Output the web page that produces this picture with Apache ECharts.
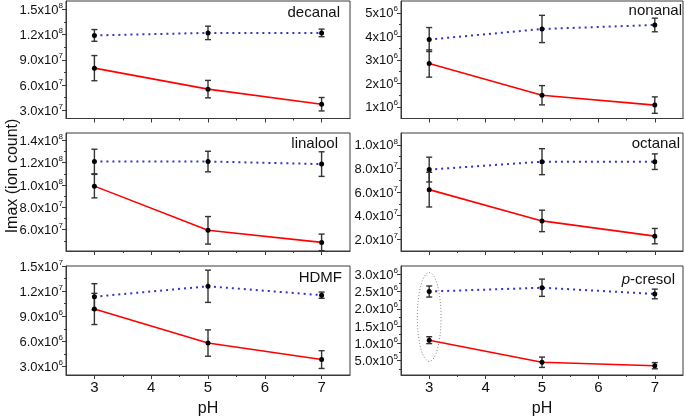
<!DOCTYPE html>
<html>
<head>
<meta charset="utf-8">
<script src="https://cdn.jsdelivr.net/npm/echarts@6/dist/echarts.min.js"></script>
<style>html,body{margin:0;padding:0;background:#fff;}#c{width:685px;height:418px;}</style>
</head>
<body>
<div id="c"></div>
<script>
// ---------------- data ----------------
const pH = [3, 5, 7];
const xTicks = [3, 4, 5, 6, 7];
const xMinorTicks = [3.5, 4.5, 5.5, 6.5];

const decanalDotted = [1.19e8, 1.22e8, 1.22e8];
const decanalDottedErr = [7e6, 8e6, 4.5e6];
const decanalSolid = [8.0e7, 5.5e7, 3.7e7];
const decanalSolidErr = [1.5e7, 1.04e7, 8e6];
const decanalTicks = [3e7, 6e7, 9e7, 1.2e8, 1.5e8];
const decanalTickLabels = ['3.0x10^7', '6.0x10^7', '9.0x10^7', '1.2x10^8', '1.5x10^8'];
const decanalMinor = [4.5e7, 7.5e7, 1.05e8, 1.35e8];

const nonanalDotted = [3.86e6, 4.31e6, 4.48e6];
const nonanalDottedErr = [0.51e6, 0.58e6, 0.29e6];
const nonanalSolid = [2.84e6, 1.49e6, 1.07e6];
const nonanalSolidErr = [0.58e6, 0.41e6, 0.35e6];
const nonanalTicks = [1e6, 2e6, 3e6, 4e6, 5e6];
const nonanalTickLabels = ['1x10^6', '2x10^6', '3x10^6', '4x10^6', '5x10^6'];
const nonanalMinor = [1.5e6, 2.5e6, 3.5e6, 4.5e6];

const linaloolDotted = [1.21e8, 1.21e8, 1.187e8];
const linaloolDottedErr = [1.1e7, 9.2e6, 1.1e7];
const linaloolSolid = [9.9e7, 5.95e7, 4.87e7];
const linaloolSolidErr = [1.05e7, 1.23e7, 7.4e6];
const linaloolTicks = [6e7, 8e7, 1e8, 1.2e8, 1.4e8];
const linaloolTickLabels = ['6.0x10^7', '8.0x10^7', '1.0x10^8', '1.2x10^8', '1.4x10^8'];
const linaloolMinor = [5e7, 7e7, 9e7, 1.1e8, 1.3e8];

const octanalDotted = [7.9e7, 8.57e7, 8.57e7];
const octanalDottedErr = [1.05e7, 1.1e7, 6.6e6];
const octanalSolid = [6.2e7, 3.55e7, 2.26e7];
const octanalSolidErr = [1.47e7, 9.1e6, 6.5e6];
const octanalTicks = [2e7, 4e7, 6e7, 8e7, 1e8];
const octanalTickLabels = ['2.0x10^7', '4.0x10^7', '6.0x10^7', '8.0x10^7', '1.0x10^8'];
const octanalMinor = [3e7, 5e7, 7e7, 9e7];

const hdmfDotted = [1.134e7, 1.258e7, 1.152e7];
const hdmfDottedErr = [1.55e6, 1.92e6, 0.37e6];
const hdmfSolid = [9.88e6, 5.81e6, 3.84e6];
const hdmfSolidErr = [1.86e6, 1.57e6, 1.06e6];
const hdmfTicks = [3e6, 6e6, 9e6, 1.2e7, 1.5e7];
const hdmfTickLabels = ['3.0x10^6', '6.0x10^6', '9.0x10^6', '1.2x10^7', '1.5x10^7'];
const hdmfMinor = [4.5e6, 7.5e6, 1.05e7, 1.35e7];

const pcresolDotted = [2.5e6, 2.61e6, 2.43e6];
const pcresolDottedErr = [0.16e6, 0.25e6, 0.14e6];
const pcresolSolid = [1.09e6, 4.5e5, 3.5e5];
const pcresolSolidErr = [1.0e5, 1.5e5, 0.9e5];
const pcresolTicks = [5e5, 1e6, 1.5e6, 2e6, 2.5e6, 3e6];
const pcresolTickLabels = ['5.0x10^5', '1.0x10^6', '1.5x10^6', '2.0x10^6', '2.5x10^6', '3.0x10^6'];
const pcresolMinor = [2.5e5, 7.5e5, 1.25e6, 1.75e6, 2.25e6, 2.75e6];

// highlight ellipse (data units of p-cresol panel)
const ellipseCenter = [3, 1.76e6];
const ellipseRadius = [0.21, 1.29e6];

// ---------------- layout ----------------
const FONT = 'Liberation Sans, Arial, Helvetica, sans-serif';
const panels = [
  {title: 'decanal', dot: decanalDotted, dotErr: decanalDottedErr, sol: decanalSolid, solErr: decanalSolidErr, ticks: decanalTicks, labels: decanalTickLabels, minor: decanalMinor, min: 2e7, max: 1.6e8, tRight: 345, tTop: 5},
  {title: 'nonanal', dot: nonanalDotted, dotErr: nonanalDottedErr, sol: nonanalSolid, solErr: nonanalSolidErr, ticks: nonanalTicks, labels: nonanalTickLabels, minor: nonanalMinor, min: 0.5e6, max: 5.5e6, tRight: 3, tTop: 3},
  {title: 'linalool', dot: linaloolDotted, dotErr: linaloolDottedErr, sol: linaloolSolid, solErr: linaloolSolidErr, ticks: linaloolTicks, labels: linaloolTickLabels, minor: linaloolMinor, min: 4.1e7, max: 1.465e8, tRight: 347, tTop: 136},
  {title: 'octanal', dot: octanalDotted, dotErr: octanalDottedErr, sol: octanalSolid, solErr: octanalSolidErr, ticks: octanalTicks, labels: octanalTickLabels, minor: octanalMinor, min: 1e7, max: 1.1e8, tRight: 5, tTop: 136},
  {title: 'HDMF', dot: hdmfDotted, dotErr: hdmfDottedErr, sol: hdmfSolid, solErr: hdmfSolidErr, ticks: hdmfTicks, labels: hdmfTickLabels, minor: hdmfMinor, min: 2e6, max: 1.5e7, tRight: 343, tTop: 270},
  {title: '{i|p}-cresol', dot: pcresolDotted, dotErr: pcresolDottedErr, sol: pcresolSolid, solErr: pcresolSolidErr, ticks: pcresolTicks, labels: pcresolTickLabels, minor: pcresolMinor, min: 0.08e6, max: 3.24e6, tRight: 10, tTop: 272}
];
const colLeft = [66, 401], colWidth = [284, 282];
const rowTop = [1, 133, 266], rowHeight = [117.5, 118, 119.5];

const AXIS_COLOR = '#3a3a3a';
const grids = [], xAxes = [], yAxes = [], series = [], titles = [];

function errRender(params, api) {
  const x = api.value(0), y = api.value(1), e = api.value(2);
  const t = api.coord([x, y + e]), b = api.coord([x, y - e]);
  const hw = 3;
  const style = {stroke: '#333', lineWidth: 1.4};
  return {type: 'group', children: [
    {type: 'line', shape: {x1: t[0], y1: t[1], x2: b[0], y2: b[1]}, style},
    {type: 'line', shape: {x1: t[0] - hw, y1: t[1], x2: t[0] + hw, y2: t[1]}, style},
    {type: 'line', shape: {x1: b[0] - hw, y1: b[1], x2: b[0] + hw, y2: b[1]}, style}
  ]};
}

panels.forEach((p, i) => {
  const col = i % 2, row = Math.floor(i / 2);
  grids.push({left: colLeft[col], width: colWidth[col], top: rowTop[row], height: rowHeight[row], show: true, borderColor: AXIS_COLOR, borderWidth: 1, backgroundColor: 'transparent'});
  const bottom = row === 2;
  xAxes.push({type: 'value', gridIndex: i, min: 2.5, max: 7.5,
    axisLine: {show: true, lineStyle: {color: AXIS_COLOR}},
    axisTick: {show: true, length: 4, customValues: xTicks, lineStyle: {color: AXIS_COLOR}},
    axisLabel: {show: bottom, customValues: xTicks, fontSize: 15, color: '#111', fontFamily: FONT, margin: 5},
    splitLine: {show: false},
    name: bottom ? 'pH' : '', nameLocation: 'middle', nameGap: 26,
    nameTextStyle: {fontSize: 16, color: '#111', fontFamily: FONT}});
  xAxes.push({type: 'value', gridIndex: i, min: 2.5, max: 7.5, position: 'bottom',
    axisLine: {show: false}, axisLabel: {show: false}, splitLine: {show: false},
    axisTick: {show: true, length: 2, customValues: xMinorTicks, lineStyle: {color: AXIS_COLOR}}});
  const ticks = p.ticks, labels = p.labels;
  yAxes.push({type: 'value', gridIndex: i, min: p.min, max: p.max, position: 'left',
    axisLine: {show: true, lineStyle: {color: AXIS_COLOR}},
    axisTick: {show: true, length: 4, customValues: ticks, lineStyle: {color: AXIS_COLOR}},
    axisLabel: {show: true, customValues: ticks, margin: 3, color: '#111', fontSize: 13, fontFamily: FONT,
      formatter: function (v) {
        const k = ticks.findIndex(t => Math.abs(t - v) < Math.abs(t) * 1e-6);
        if (k < 0) return '';
        const parts = labels[k].split('^');
        return '{m|' + parts[0] + '}{s|' + parts[1] + '}';
      },
      rich: {
        m: {fontSize: 13, fontFamily: FONT, color: '#111', lineHeight: 15, verticalAlign: 'bottom'},
        s: {fontSize: 8, fontFamily: FONT, color: '#111', lineHeight: 15, verticalAlign: 'top', padding: [0, 0, 0, 0]}
      }},
    splitLine: {show: false}});
  yAxes.push({type: 'value', gridIndex: i, min: p.min, max: p.max, position: 'left',
    axisLine: {show: false}, axisLabel: {show: false}, splitLine: {show: false},
    axisTick: {show: true, length: 2, customValues: p.minor, lineStyle: {color: AXIS_COLOR}}});

  const xi = 2 * i, yi = 2 * i;
  series.push({type: 'custom', xAxisIndex: xi, yAxisIndex: yi, renderItem: errRender, z: 3,
    data: pH.map((x, k) => [x, p.dot[k], p.dotErr[k]]), encode: {x: 0, y: 1}, silent: true});
  series.push({type: 'custom', xAxisIndex: xi, yAxisIndex: yi, renderItem: errRender, z: 3,
    data: pH.map((x, k) => [x, p.sol[k], p.solErr[k]]), encode: {x: 0, y: 1}, silent: true});
  series.push({type: 'line', xAxisIndex: xi, yAxisIndex: yi, z: 4,
    data: pH.map((x, k) => [x, p.dot[k]]),
    lineStyle: {color: '#3434c8', width: 2, type: [2, 4]},
    symbol: 'circle', symbolSize: 5, itemStyle: {color: '#000'}, animation: false});
  series.push({type: 'line', xAxisIndex: xi, yAxisIndex: yi, z: 4,
    data: pH.map((x, k) => [x, p.sol[k]]),
    lineStyle: {color: '#ff0000', width: 1.6},
    symbol: 'circle', symbolSize: 5, itemStyle: {color: '#000'}, animation: false});

  titles.push({text: p.title, right: p.tRight, top: p.tTop, padding: 0,
    textStyle: {fontSize: 15, fontWeight: 'normal', color: '#111', fontFamily: FONT,
      rich: {i: {fontSize: 15, fontStyle: 'italic', color: '#111', fontFamily: FONT}}}});
});

const chart = echarts.init(document.getElementById('c'), null, {renderer: 'canvas'});
chart.setOption({
  animation: false,
  backgroundColor: '#fff',
  title: titles,
  grid: grids, xAxis: xAxes, yAxis: yAxes, series: series
});

// highlight ellipse around pH 3 of p-cresol panel
const pcSeries = 5 * 4 + 2;
const c0 = chart.convertToPixel({seriesIndex: pcSeries}, ellipseCenter);
const c1 = chart.convertToPixel({seriesIndex: pcSeries}, [ellipseCenter[0] + ellipseRadius[0], ellipseCenter[1] + ellipseRadius[1]]);
chart.setOption({graphic: [{type: 'text', x: 13, y: 176, rotation: Math.PI / 2,
    style: {text: 'Imax (ion count)', fontSize: 16, fontFamily: FONT, fill: '#111', align: 'center', verticalAlign: 'middle'}},
  {type: 'ellipse', shape: {cx: c0[0], cy: c0[1], rx: Math.abs(c1[0] - c0[0]), ry: Math.abs(c0[1] - c1[1])},
    style: {fill: 'none', stroke: '#888', lineWidth: 1, lineDash: [1, 2]}, z: 10}]});
</script>
</body>
</html>
